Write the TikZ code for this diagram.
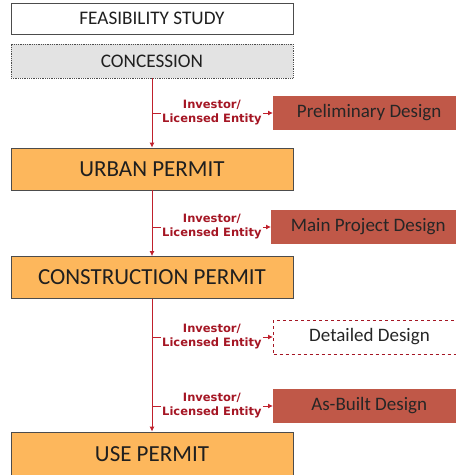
\documentclass[tikz,border=0pt]{standalone}
\usepackage{fontspec}
\setmainfont{Carlito}
\newfontfamily\whofont{DejaVu Sans}
\usetikzlibrary{positioning,arrows.meta}
\definecolor{permitorange}{RGB}{253,183,92}
\definecolor{designred}{RGB}{192,88,72}
\definecolor{linered}{RGB}{192,32,44}
\definecolor{whored}{RGB}{165,22,36}
\tikzset{box/.style={draw=black!70,line width=0.8pt,minimum width=282pt,inner sep=0pt,text=black!88},
 stagebox/.style={box,fill=white,minimum height=31pt,font=\fontsize{19.2}{21}\selectfont},
 concbox/.style={box,fill=black!11,densely dotted,minimum height=34pt,font=\fontsize{19.2}{21}\selectfont},
 permit/.style={box,fill=permitorange,minimum height=42pt,font=\fontsize{23}{25}\selectfont},
 design/.style={anchor=west,minimum width=184pt,minimum height=34pt,inner sep=0pt,fill=designred,text=black!85,
   font=\fontsize{19}{21}\selectfont,execute at begin node=\hspace*{8pt}},
 dashdesign/.style={design,fill=white,draw=whored,dashed,line width=1pt},
 who/.style={font=\whofont\bfseries\fontsize{11.5}{14}\selectfont,text=whored,align=center,inner sep=1pt},
 flow/.style={draw=linered,line width=0.9pt},
 redtip/.style={-{Latex[length=5pt,width=5pt]}},
 }

\begin{document}
\begin{tikzpicture}[x=1pt,y=-1pt]
        \useasboundingbox (0,0) rectangle (456,475);
        \node[stagebox] (feas) at (152,18.5) {FEASIBILITY STUDY};
        \node[concbox] (conc) at (152,61) {CONCESSION};
        \node[permit] (urban) at (152,169) {URBAN PERMIT};
        \node[permit] (constr) at (152,277.5) {CONSTRUCTION PERMIT};
        \node[permit,minimum height=44pt] (use) at (152,454) {USE PERMIT};
        \node[design] (pre) at (273,113) {Preliminary Design};
        \node[design,minimum width=186pt] (main) at (271,227) {Main Project Design};
        \node[dashdesign] (det) at (273,337) {Detailed Design};
        \node[design] (built) at (273,406) {As-Built Design};
        \draw[flow,redtip] (conc) -- (urban);
        \draw[flow,redtip] (urban) -- (constr);
        \draw[flow,redtip] (constr) -- (use);
        \coordinate (b1) at (152,113);
        \coordinate (b2) at (152,227);
        \coordinate (b3) at (152,337);
        \coordinate (b4) at (152,406);
        \node[who,right=9pt of b1] (w1) {Investor/\\Licensed Entity};
        \node[who,right=9pt of b2] (w2) {Investor/\\Licensed Entity};
        \node[who,right=9pt of b3] (w3) {Investor/\\Licensed Entity};
        \node[who,right=9pt of b4] (w4) {Investor/\\Licensed Entity};
        \draw[flow] (b1) -- (w1);
        \draw[flow] (b2) -- (w2);
        \draw[flow] (b3) -- (w3);
        \draw[flow] (b4) -- (w4);
        \draw[flow,redtip] (w1) -- (pre);
        \draw[flow,redtip] (w2) -- (main);
        \draw[flow,redtip] (w3) -- (det);
        \draw[flow,redtip] (w4) -- (built);
    \end{tikzpicture}
\end{document}
